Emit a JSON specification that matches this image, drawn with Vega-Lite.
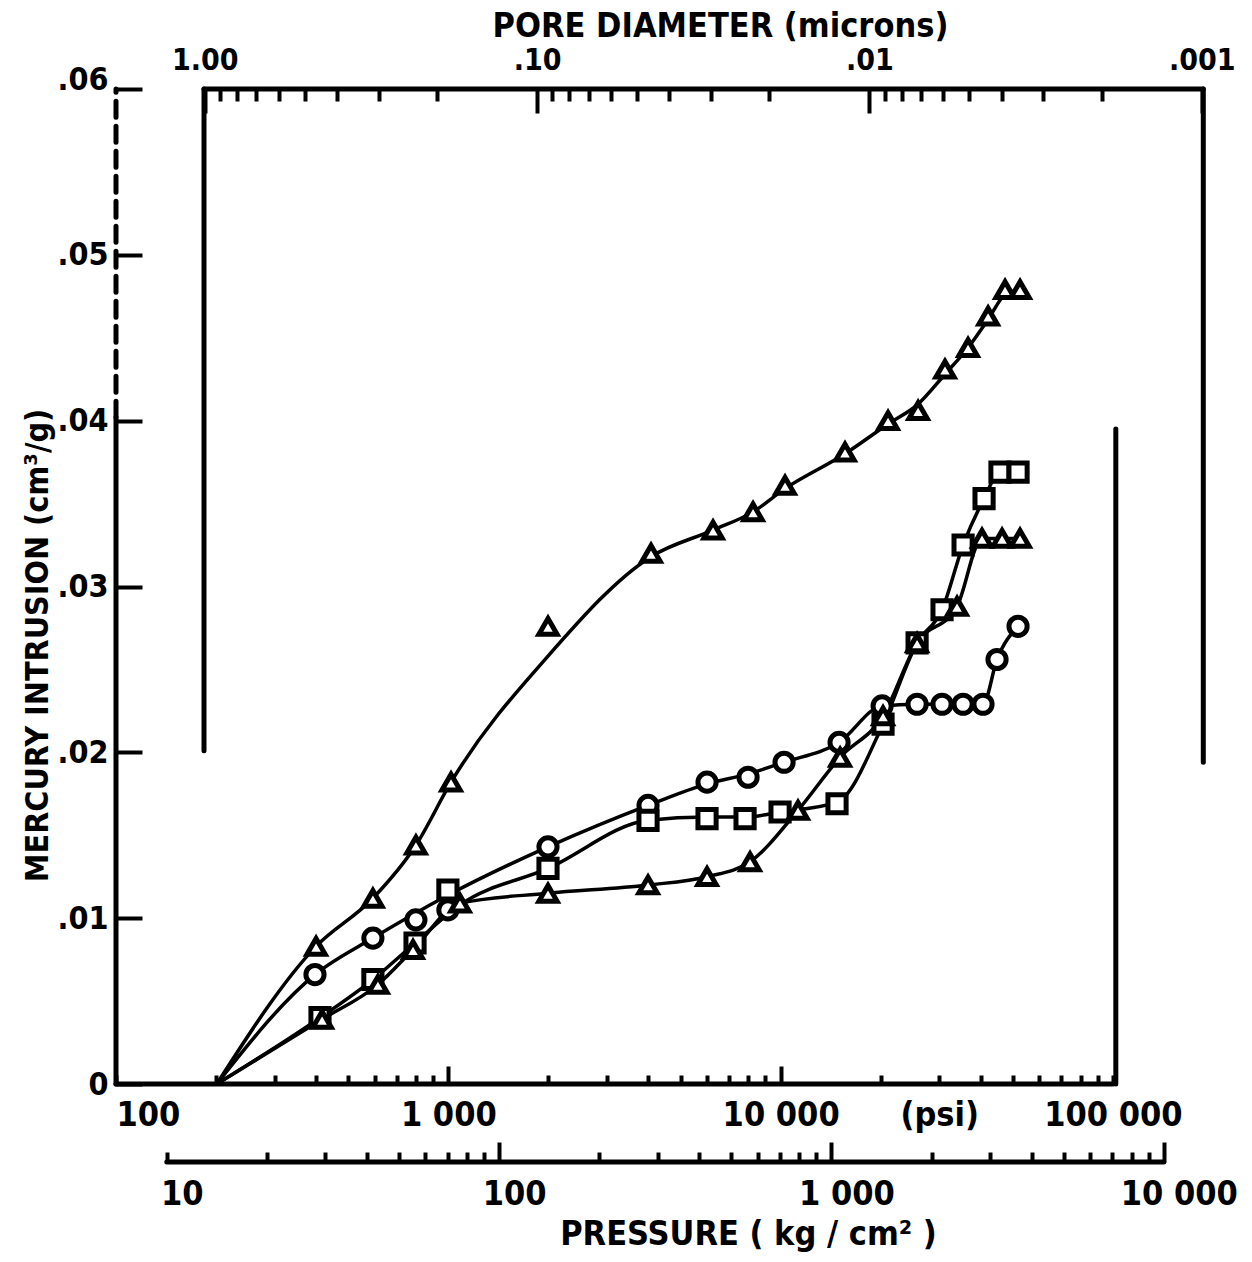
{
  "$schema": "https://vega.github.io/schema/vega-lite/v6.json",
  "width": 1097,
  "height": 995,
  "autosize": {"type": "none"},
  "padding": {"left": 116, "top": 89, "right": 39, "bottom": 178},
  "background": "white",
  "config": {
    "view": {"stroke": null},
    "axis": {
      "domain": false,
      "grid": false,
      "tickColor": "black",
      "tickWidth": 4,
      "labelColor": "black",
      "labelFont": "Liberation Sans Narrow, DejaVu Sans Condensed, sans-serif",
      "labelFontWeight": "bold",
      "titleFont": "Liberation Sans Narrow, DejaVu Sans Condensed, sans-serif",
      "titleFontWeight": "bold",
      "titleColor": "black",
      "labelOverlap": false,
      "labelBound": false
    }
  },
  "datasets": {
    "frame": [
      {"x": 100, "x2": 100, "y": 0, "y2": 0.0402, "style": "solid"},
      {"x": 100, "x2": 100, "y": 0.0402, "y2": 0.06, "style": "dashed"},
      {"x": 100, "x2": 100000, "y": 0, "y2": 0, "style": "solid"},
      {"x": 102000, "x2": 102000, "y": 0, "y2": 0.0395, "style": "solid"},
      {"x": 184, "x2": 187000, "y": 0.06, "y2": 0.06, "style": "solid"},
      {"x": 184, "x2": 184, "y": 0.0201, "y2": 0.06, "style": "solid"},
      {"x": 187000, "x2": 187000, "y": 0.0194, "y2": 0.06, "style": "solid"},
      {"x": 142.2, "x2": 142233, "y": -0.0047, "y2": -0.0047, "style": "solid"}
    ],
    "curves": [
      {"series": "T1", "psi": 201, "v": 0},
      {"series": "T1", "psi": 400, "v": 0.0083},
      {"series": "T1", "psi": 593, "v": 0.0112},
      {"series": "T1", "psi": 799, "v": 0.0144},
      {"series": "T1", "psi": 1019, "v": 0.0182},
      {"series": "T1", "psi": 1995, "v": 0.0258},
      {"series": "T1", "psi": 4074, "v": 0.0318},
      {"series": "T1", "psi": 6260, "v": 0.0334},
      {"series": "T1", "psi": 8260, "v": 0.0345},
      {"series": "T1", "psi": 10310, "v": 0.0359},
      {"series": "T1", "psi": 15620, "v": 0.038},
      {"series": "T1", "psi": 21050, "v": 0.0398},
      {"series": "T1", "psi": 25920, "v": 0.041},
      {"series": "T1", "psi": 31230, "v": 0.0428},
      {"series": "T1", "psi": 36640, "v": 0.0444},
      {"series": "T1", "psi": 42100, "v": 0.0461},
      {"series": "T1", "psi": 47350, "v": 0.0476},
      {"series": "T1", "psi": 52530, "v": 0.0479},
      {"series": "C", "psi": 201, "v": 0},
      {"series": "C", "psi": 397, "v": 0.0066},
      {"series": "C", "psi": 593, "v": 0.0088},
      {"series": "C", "psi": 1000, "v": 0.0114},
      {"series": "C", "psi": 1995, "v": 0.0143},
      {"series": "C", "psi": 3990, "v": 0.0168},
      {"series": "C", "psi": 6005, "v": 0.0181},
      {"series": "C", "psi": 7980, "v": 0.0187},
      {"series": "C", "psi": 10240, "v": 0.0194},
      {"series": "C", "psi": 14990, "v": 0.0206},
      {"series": "C", "psi": 20200, "v": 0.0228},
      {"series": "C", "psi": 25740, "v": 0.0229},
      {"series": "C", "psi": 30600, "v": 0.0229},
      {"series": "C", "psi": 35400, "v": 0.0229},
      {"series": "C", "psi": 40640, "v": 0.0229},
      {"series": "C", "psi": 44790, "v": 0.0256},
      {"series": "C", "psi": 51810, "v": 0.0276},
      {"series": "S", "psi": 201, "v": 0},
      {"series": "S", "psi": 411, "v": 0.004},
      {"series": "S", "psi": 593, "v": 0.0063},
      {"series": "S", "psi": 794, "v": 0.0085},
      {"series": "S", "psi": 1084, "v": 0.0108},
      {"series": "S", "psi": 1995, "v": 0.013},
      {"series": "S", "psi": 3990, "v": 0.0159},
      {"series": "S", "psi": 6005, "v": 0.0161},
      {"series": "S", "psi": 7815, "v": 0.0161},
      {"series": "S", "psi": 9960, "v": 0.0164},
      {"series": "S", "psi": 14780, "v": 0.017},
      {"series": "S", "psi": 20330, "v": 0.0217},
      {"series": "S", "psi": 25740, "v": 0.0266},
      {"series": "S", "psi": 30600, "v": 0.0286},
      {"series": "S", "psi": 35400, "v": 0.0325},
      {"series": "S", "psi": 40940, "v": 0.0353},
      {"series": "S", "psi": 45710, "v": 0.0369},
      {"series": "S", "psi": 51810, "v": 0.0369},
      {"series": "T2", "psi": 201, "v": 0},
      {"series": "T2", "psi": 417, "v": 0.0039},
      {"series": "T2", "psi": 614, "v": 0.006},
      {"series": "T2", "psi": 783, "v": 0.0081},
      {"series": "T2", "psi": 1084, "v": 0.0109},
      {"series": "T2", "psi": 1995, "v": 0.0115},
      {"series": "T2", "psi": 3990, "v": 0.012},
      {"series": "T2", "psi": 6005, "v": 0.0125},
      {"series": "T2", "psi": 8090, "v": 0.0134},
      {"series": "T2", "psi": 11280, "v": 0.0165},
      {"series": "T2", "psi": 15100, "v": 0.0197},
      {"series": "T2", "psi": 20330, "v": 0.0222},
      {"series": "T2", "psi": 25740, "v": 0.0266},
      {"series": "T2", "psi": 33950, "v": 0.0288},
      {"series": "T2", "psi": 40360, "v": 0.0329},
      {"series": "T2", "psi": 46380, "v": 0.0329},
      {"series": "T2", "psi": 52530, "v": 0.0329}
    ],
    "markers": [
      {"series": "T1", "psi": 400, "v": 0.0083},
      {"series": "T1", "psi": 593, "v": 0.0112},
      {"series": "T1", "psi": 799, "v": 0.0144},
      {"series": "T1", "psi": 1019, "v": 0.0182},
      {"series": "T1", "psi": 1995, "v": 0.0276},
      {"series": "T1", "psi": 4074, "v": 0.032},
      {"series": "T1", "psi": 6260, "v": 0.0334},
      {"series": "T1", "psi": 8260, "v": 0.0345},
      {"series": "T1", "psi": 10310, "v": 0.0361},
      {"series": "T1", "psi": 15620, "v": 0.0381},
      {"series": "T1", "psi": 21050, "v": 0.04},
      {"series": "T1", "psi": 25920, "v": 0.0406},
      {"series": "T1", "psi": 31230, "v": 0.0431},
      {"series": "T1", "psi": 36640, "v": 0.0444},
      {"series": "T1", "psi": 42100, "v": 0.0463},
      {"series": "T1", "psi": 47350, "v": 0.0479},
      {"series": "T1", "psi": 52530, "v": 0.0479},
      {"series": "C", "psi": 397, "v": 0.0066},
      {"series": "C", "psi": 593, "v": 0.0088},
      {"series": "C", "psi": 799, "v": 0.0099},
      {"series": "C", "psi": 997, "v": 0.0105},
      {"series": "C", "psi": 1995, "v": 0.0143},
      {"series": "C", "psi": 3990, "v": 0.0168},
      {"series": "C", "psi": 6005, "v": 0.0182},
      {"series": "C", "psi": 7980, "v": 0.0185},
      {"series": "C", "psi": 10240, "v": 0.0194},
      {"series": "C", "psi": 14990, "v": 0.0206},
      {"series": "C", "psi": 20200, "v": 0.0228},
      {"series": "C", "psi": 25740, "v": 0.0229},
      {"series": "C", "psi": 30600, "v": 0.0229},
      {"series": "C", "psi": 35400, "v": 0.0229},
      {"series": "C", "psi": 40640, "v": 0.0229},
      {"series": "C", "psi": 44790, "v": 0.0256},
      {"series": "C", "psi": 51810, "v": 0.0276},
      {"series": "S", "psi": 411, "v": 0.004},
      {"series": "S", "psi": 593, "v": 0.0063},
      {"series": "S", "psi": 794, "v": 0.0085},
      {"series": "S", "psi": 997, "v": 0.0117},
      {"series": "S", "psi": 1995, "v": 0.013},
      {"series": "S", "psi": 3990, "v": 0.0159},
      {"series": "S", "psi": 6005, "v": 0.016},
      {"series": "S", "psi": 7815, "v": 0.016},
      {"series": "S", "psi": 9960, "v": 0.0164},
      {"series": "S", "psi": 14780, "v": 0.0169},
      {"series": "S", "psi": 20330, "v": 0.0217},
      {"series": "S", "psi": 25740, "v": 0.0266},
      {"series": "S", "psi": 30600, "v": 0.0286},
      {"series": "S", "psi": 35400, "v": 0.0325},
      {"series": "S", "psi": 40940, "v": 0.0353},
      {"series": "S", "psi": 45710, "v": 0.0369},
      {"series": "S", "psi": 51810, "v": 0.0369},
      {"series": "T2", "psi": 417, "v": 0.0039},
      {"series": "T2", "psi": 614, "v": 0.006},
      {"series": "T2", "psi": 783, "v": 0.0081},
      {"series": "T2", "psi": 1084, "v": 0.0109},
      {"series": "T2", "psi": 1995, "v": 0.0115},
      {"series": "T2", "psi": 3990, "v": 0.012},
      {"series": "T2", "psi": 6005, "v": 0.0125},
      {"series": "T2", "psi": 8090, "v": 0.0134},
      {"series": "T2", "psi": 11280, "v": 0.0165},
      {"series": "T2", "psi": 15100, "v": 0.0197},
      {"series": "T2", "psi": 20330, "v": 0.0222},
      {"series": "T2", "psi": 25740, "v": 0.0266},
      {"series": "T2", "psi": 33950, "v": 0.0288},
      {"series": "T2", "psi": 40360, "v": 0.0329},
      {"series": "T2", "psi": 46380, "v": 0.0329},
      {"series": "T2", "psi": 52530, "v": 0.0329}
    ]
  },
  "layer": [
    {
      "data": {"name": "frame"},
      "mark": {"type": "rule", "strokeWidth": 5, "color": "black", "strokeCap": "round"},
      "encoding": {
        "x": {
          "field": "x", "type": "quantitative",
          "scale": {"type": "log", "domain": [100, 200000], "nice": false},
          "axis": {
            "orient": "bottom",
            "title": null,
            "values": [100, 200, 300, 400, 500, 600, 700, 800, 900, 1000, 2000, 3000, 4000, 5000, 6000, 7000, 8000, 9000, 10000, 20000, 30000, 40000, 50000, 60000, 70000, 80000, 90000, 100000],
            "tickSize": {"condition": {"test": "datum.value == 1000 || datum.value == 10000", "value": -18}, "value": -9},
            "labelExpr": "datum.value == 100 ? '100' : datum.value == 1000 ? '1 000' : datum.value == 10000 ? '10 000' : datum.value == 100000 ? '100 000' : datum.value == 30000 ? '(psi)' : ''",
            "labelFlush": true,
            "labelFontSize": 34,
            "labelPadding": {"condition": {"test": "datum.value == 1000 || datum.value == 10000", "value": 32}, "value": 23}
          }
        },
        "x2": {"field": "x2"},
        "y": {
          "field": "y", "type": "quantitative",
          "scale": {"domain": [0, 0.06], "nice": false, "zero": false},
          "axis": {
            "values": [0, 0.01, 0.02, 0.03, 0.04, 0.05, 0.06],
            "tickSize": -26,
            "labelExpr": "datum.value == 0 ? '0' : '.0' + round(datum.value * 100)",
            "labelFontSize": 32,
            "labelPadding": 34,
            "labelBaseline": {"condition": {"test": "datum.value > 0.055", "value": "alphabetic"}, "value": "middle"},
            "title": "MERCURY INTRUSION (cm³/g)",
            "titleFontSize": 32,
            "titlePadding": 3,
            "titleY": 556
          }
        },
        "y2": {"field": "y2"},
        "strokeDash": {
          "field": "style", "type": "nominal",
          "scale": {"domain": ["solid", "dashed"], "range": [[1, 0], [16, 9]]},
          "legend": null
        }
      }
    },
    {
      "data": {"name": "curves"},
      "mark": {"type": "line", "interpolate": "monotone", "strokeWidth": 3.5, "color": "black"},
      "encoding": {
        "x": {
          "field": "psi", "type": "quantitative",
          "scale": {"type": "log", "domain": [100, 200000], "nice": false},
          "axis": {
            "orient": "bottom",
            "offset": 78,
            "values": [142.233, 284.466, 426.699, 568.932, 711.165, 853.398, 995.631, 1137.864, 1280.097, 1422.33, 2844.66, 4266.99, 5689.32, 7111.65, 8533.98, 9956.31, 11378.64, 12800.97, 14223.3, 28446.6, 42669.9, 56893.2, 71116.5, 85339.8, 99563.1, 113786.4, 128009.7, 142233],
            "tickSize": {"condition": {"test": "round(datum.value / 14.2233) == 100 || round(datum.value / 14.2233) == 1000 || round(datum.value / 14.2233) == 10000", "value": -20}, "value": -10},
            "labelExpr": "round(datum.value / 14.2233) == 10 ? '10' : round(datum.value / 14.2233) == 100 ? '100' : round(datum.value / 14.2233) == 1000 ? '1 000' : round(datum.value / 14.2233) == 10000 ? '10 000' : ''",
            "labelFontSize": 34,
            "labelPadding": {"condition": {"test": "round(datum.value / 14.2233) == 100 || round(datum.value / 14.2233) == 1000 || round(datum.value / 14.2233) == 10000", "value": 35}, "value": 25},
            "labelOffset": 15,
            "title": "PRESSURE ( kg / cm² )",
            "titleFontSize": 34,
            "titlePadding": 6,
            "titleX": 632
          }
        },
        "y": {
          "field": "v", "type": "quantitative",
          "scale": {"domain": [0, 0.06], "nice": false, "zero": false},
          "axis": {
            "values": [0, 0.01, 0.02, 0.03, 0.04, 0.05, 0.06],
            "tickSize": -26,
            "labelExpr": "datum.value == 0 ? '0' : '.0' + round(datum.value * 100)",
            "labelFontSize": 32,
            "labelPadding": 34,
            "labelBaseline": {"condition": {"test": "datum.value > 0.055", "value": "alphabetic"}, "value": "middle"},
            "title": "MERCURY INTRUSION (cm³/g)",
            "titleFontSize": 32,
            "titlePadding": 3,
            "titleY": 556
          }
        },
        "detail": {"field": "series", "type": "nominal"}
      }
    },
    {
      "data": {"name": "markers"},
      "mark": {"type": "point", "filled": true, "fill": "white", "stroke": "black", "strokeWidth": 5, "size": 330, "opacity": 1},
      "encoding": {
        "x": {
          "field": "psi", "type": "quantitative",
          "scale": {"type": "log", "domain": [100, 200000], "nice": false},
          "axis": {
            "orient": "top",
            "values": [185, 205.56, 231.25, 264.29, 308.33, 370, 462.5, 616.67, 925, 1850, 2055.6, 2312.5, 2642.9, 3083.3, 3700, 4625, 6166.7, 9250, 18500, 20556, 23125, 26429, 30833, 37000, 46250, 61667, 92500, 185000],
            "tickSize": {"condition": {"test": "abs(datum.value - 185) < 1 || abs(datum.value - 1850) < 1 || abs(datum.value - 18500) < 1 || abs(datum.value - 185000) < 1", "value": -24}, "value": -12},
            "labelExpr": "abs(datum.value - 185) < 1 ? '1.00' : abs(datum.value - 1850) < 1 ? '.10' : abs(datum.value - 18500) < 1 ? '.01' : abs(datum.value - 185000) < 1 ? '.001' : ''",
            "labelFontSize": 30,
            "labelPadding": 38,
            "title": "PORE DIAMETER (microns)",
            "titleFontSize": 34,
            "titleBaseline": "bottom",
            "titleX": 604,
            "titleY": -46
          }
        },
        "y": {
          "field": "v", "type": "quantitative",
          "scale": {"domain": [0, 0.06], "nice": false, "zero": false},
          "axis": {
            "values": [0, 0.01, 0.02, 0.03, 0.04, 0.05, 0.06],
            "tickSize": -26,
            "labelExpr": "datum.value == 0 ? '0' : '.0' + round(datum.value * 100)",
            "labelFontSize": 32,
            "labelPadding": 34,
            "labelBaseline": {"condition": {"test": "datum.value > 0.055", "value": "alphabetic"}, "value": "middle"},
            "title": "MERCURY INTRUSION (cm³/g)",
            "titleFontSize": 32,
            "titlePadding": 3,
            "titleY": 556
          }
        },
        "shape": {
          "field": "series", "type": "nominal",
          "scale": {"domain": ["T1", "T2", "C", "S"], "range": ["triangle-up", "triangle-up", "circle", "square"]},
          "legend": null
        }
      }
    }
  ],
  "resolve": {"scale": {"x": "independent"}}
}
